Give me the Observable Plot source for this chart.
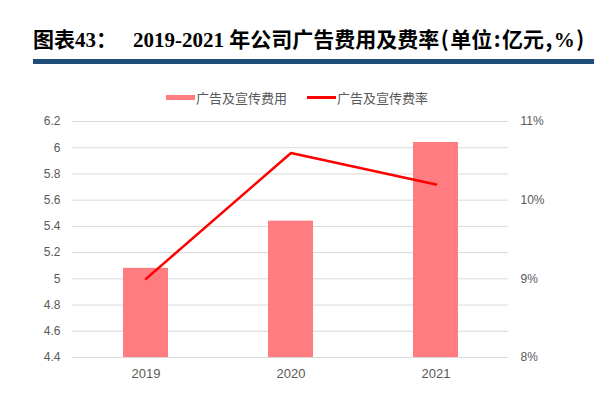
<!DOCTYPE html>
<html>
<head>
<meta charset="utf-8">
<script src="https://cdn.jsdelivr.net/npm/d3@7"></script>
<script src="https://cdn.jsdelivr.net/npm/@observablehq/plot@0.6"></script>
<style>
  body { margin: 0; background: #fff; width: 594px; height: 402px; overflow: hidden; }
  #title {
    position: absolute; left: 33px; top: 23px;
    font: bold 21px "Liberation Serif", "Noto Sans CJK SC", serif;
    color: #000; white-space: nowrap;
  }
  #title .rest { margin-left: 16px; }
  #title .p { font-family: "Noto Sans CJK SC", sans-serif; padding: 0 1.5px; }
  #rule { position: absolute; left: 33px; top: 59px; width: 561px; height: 5px; background: #1f4e79; }
  #legend {
    position: absolute; left: 0; top: 88px; width: 594px;
    display: flex; justify-content: center; gap: 20px;
    font: 13px "Noto Sans CJK SC", sans-serif; color: #595959;
  }
  #legend span { display: inline-flex; align-items: center; }
  #legend i { display: inline-block; width: 29px; margin-right: 1px; }
  #chart { position: absolute; left: 0; top: 105px; }
</style>
</head>
<body>
<div id="title">图表43：<span class="rest">2019-2021 年公司广告费用及费率<span class="p">(</span>单位<span class="p">:</span>亿元<span class="p">,</span>%<span class="p">)</span></span></div>
<div id="rule"></div>
<div id="legend">
  <span><i style="height:5px;background:#ff7c80"></i>广告及宣传费用</span>
  <span><i style="height:3px;background:#ff0000"></i>广告及宣传费率</span>
</div>
<div id="chart"></div>
<script>
const years = ["2019", "2020", "2021"];
const costs = [5.08, 5.44, 6.04];      // 亿元
const rates = [9.0, 10.6, 10.2];       // %
const leftTicks = [4.4, 4.6, 4.8, 5, 5.2, 5.4, 5.6, 5.8, 6, 6.2];
const rightTicks = [8, 9, 10, 11];

// right axis (8%–11%) mapped onto left domain (4.4–6.2)
const rateY = d3.scaleLinear().domain([8, 11]).range([4.4, 6.2]);

const data = years.map((y, i) => ({year: y, cost: costs[i], rate: rates[i]}));

const plot = Plot.plot({
  width: 594,
  height: 297,
  marginTop: 16,
  marginBottom: 45,
  marginLeft: 72,
  marginRight: 86,
  style: {fontFamily: "'Liberation Sans', Arial, sans-serif", fontSize: "12px", color: "#595959"},
  x: {type: "band", domain: years, paddingInner: 0.69, paddingOuter: 0.345, label: null},
  y: {domain: [4.4, 6.2], label: null},
  marks: [
    Plot.ruleY(leftTicks, {stroke: "#d9d9d9", strokeWidth: 1}),
    Plot.barY(data, {x: "year", y1: 4.4, y2: "cost", fill: "#ff7c80"}),
    Plot.line(data, {x: "year", y: d => rateY(d.rate), stroke: "#ff0000", strokeWidth: 2.5}),
    Plot.axisY(leftTicks, {anchor: "left", tickSize: 0, tickPadding: 12, tickFormat: d => String(d), label: null}),
    Plot.axisY(rightTicks.map(t => rateY(t)), {anchor: "right", tickSize: 0, tickPadding: 12,
      tickFormat: d => Math.round(rateY.invert(d)) + "%", label: null}),
    Plot.axisX({tickSize: 0, tickPadding: 11, fontSize: 13, label: null})
  ]
});
document.querySelector("#chart").append(plot);
</script>
</body>
</html>
